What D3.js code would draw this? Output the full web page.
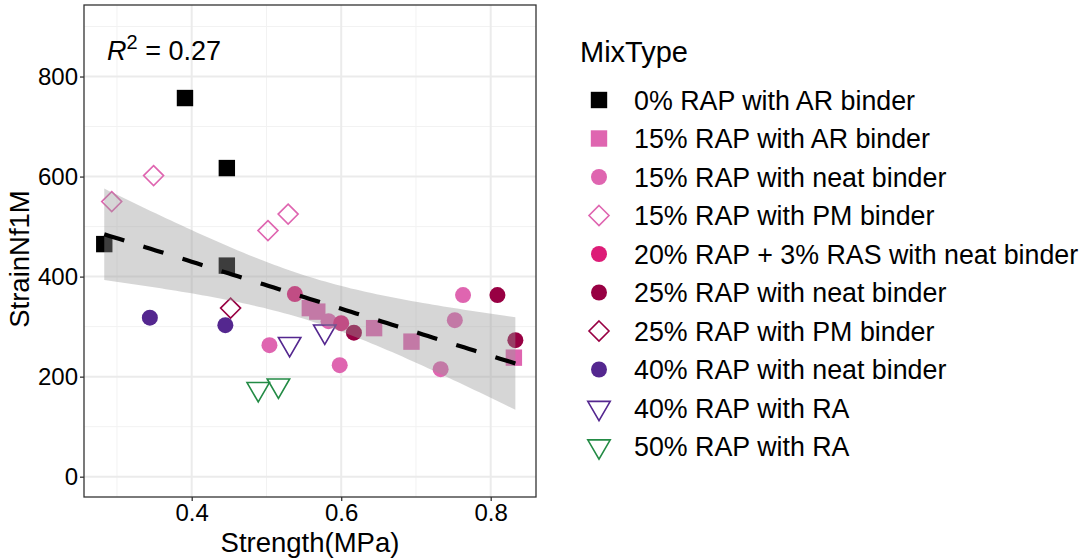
<!DOCTYPE html>
<html>
<head>
<meta charset="utf-8">
<script src="https://d3js.org/d3.v7.min.js"></script>
<style>
  body { margin: 0; background: #fff; }
  * { font-family: "Liberation Sans", Arial, sans-serif; }
</style>
</head>
<body>
<script>
// ---- data ----
var mixTypes = [
  "0% RAP with AR binder",
  "15% RAP with AR binder",
  "15% RAP with neat binder",
  "15% RAP with PM binder",
  "20% RAP + 3% RAS with neat binder",
  "25% RAP with neat binder",
  "25% RAP with PM binder",
  "40% RAP with neat binder",
  "40% RAP with RA",
  "50% RAP with RA"
];
var mixColors = ["#000000", "#df65b0", "#df65b0", "#df65b0", "#dd1c77",
                 "#980043", "#980043", "#54278f", "#54278f", "#238b45"];
var mixShapes = ["square", "square", "circle", "diamond", "circle",
                 "circle", "diamond", "circle", "triangle", "triangle"];

// strength (MPa) per point, grouped by mix type index
var pointType = [0, 0, 0, 0,
                 1, 1, 1, 1, 1,
                 2, 2, 2, 2, 2, 2,
                 3, 3, 3, 3,
                 4, 4,
                 5, 5, 5,
                 6,
                 7, 7,
                 8, 8,
                 9, 9];
var strength = [0.391, 0.447, 0.283, 0.447,
                0.558, 0.568, 0.644, 0.694, 0.831,
                0.504, 0.583, 0.598, 0.733, 0.752, 0.763,
                0.349, 0.293, 0.502, 0.529,
                0.538, 0.600,
                0.617, 0.809, 0.833,
                0.452,
                0.344, 0.445,
                0.531, 0.578,
                0.489, 0.516];
var strainNf1M = [757, 617, 465, 422,
                  337, 330, 297, 270, 238,
                  263, 311, 223, 215, 313, 363,
                  602, 550, 492, 525,
                  365, 307,
                  288, 363, 273,
                  337,
                  318, 303,
                  265, 290,
                  175, 182];

var xTicks = [0.4, 0.6, 0.8];
var yTicks = [0, 200, 400, 600, 800];
var xMinor = [0.3, 0.5, 0.7];
var yMinor = [100, 300, 500, 700, 900];
var r2Label = "0.27";

// ---- layout ----
var W = 1087, H = 559;
var panel = {left: 84, right: 536, top: 5, bottom: 497};

var svg = d3.select("body").append("svg")
    .attr("width", W)
    .attr("height", H);

var x = d3.scaleLinear().domain([0.2559, 0.8606]).range([panel.left, panel.right]);
var y = d3.scaleLinear().domain([-40.6, 943]).range([panel.bottom, panel.top]);

// grid
var grid = svg.append("g");
grid.selectAll(".xminor").data(xMinor).enter().append("line")
    .attr("x1", d => x(d)).attr("x2", d => x(d))
    .attr("y1", panel.top).attr("y2", panel.bottom)
    .attr("stroke", "#f2f2f2").attr("stroke-width", 1);
grid.selectAll(".yminor").data(yMinor).enter().append("line")
    .attr("y1", d => y(d)).attr("y2", d => y(d))
    .attr("x1", panel.left).attr("x2", panel.right)
    .attr("stroke", "#f2f2f2").attr("stroke-width", 1);
grid.selectAll(".xmajor").data(xTicks).enter().append("line")
    .attr("x1", d => x(d)).attr("x2", d => x(d))
    .attr("y1", panel.top).attr("y2", panel.bottom)
    .attr("stroke", "#ebebeb").attr("stroke-width", 2);
grid.selectAll(".ymajor").data(yTicks).enter().append("line")
    .attr("y1", d => y(d)).attr("y2", d => y(d))
    .attr("x1", panel.left).attr("x2", panel.right)
    .attr("stroke", "#ebebeb").attr("stroke-width", 2);

// symbol paths, s = half size
function shapePath(shape, s) {
  var p = d3.path();
  if (shape == "square") {
    p.rect(-s, -s, 2 * s, 2 * s);
  } else if (shape == "circle") {
    p.arc(0, 0, s, 0, 2 * Math.PI);
  } else if (shape == "diamond") {
    p.moveTo(0, -s); p.lineTo(s, 0); p.lineTo(0, s); p.lineTo(-s, 0); p.closePath();
  } else {
    // downward triangle
    p.moveTo(-s * 1.1, -s * 0.65); p.lineTo(s * 1.1, -s * 0.65); p.lineTo(0, s * 1.25); p.closePath();
  }
  return p.toString();
}
function shapeSize(shape) {
  return shape == "square" ? 8.2 : shape == "circle" ? 8 : shape == "diamond" ? 10 : 10.2;
}
function styleMark(sel, ti) {
  var shape = mixShapes[ti], col = mixColors[ti];
  var open = shape == "diamond" || shape == "triangle";
  sel.attr("d", shapePath(shape, shapeSize(shape)))
     .attr("fill", open ? "none" : col)
     .attr("stroke", open ? col : "none")
     .attr("stroke-width", open ? 1.6 : 0);
}

// points
var pts = strength.map((s, i) => ({x: s, y: strainNf1M[i], t: pointType[i]}));
svg.append("g").selectAll("path").data(pts).enter().append("path")
    .attr("transform", d => "translate(" + x(d.x) + "," + y(d.y) + ")")
    .each(function(d) { styleMark(d3.select(this), d.t); });

// linear fit with 95% band
var n = pts.length;
var mx = d3.mean(pts, d => d.x), my = d3.mean(pts, d => d.y);
var sxx = d3.sum(pts, d => (d.x - mx) * (d.x - mx));
var sxy = d3.sum(pts, d => (d.x - mx) * (d.y - my));
var slope = sxy / sxx, icpt = my - slope * mx;
var sse = d3.sum(pts, d => Math.pow(d.y - (icpt + slope * d.x), 2));
var sres = Math.sqrt(sse / (n - 2));
var tq = 2.045; // t(0.975, 29)
var xlo = d3.min(pts, d => d.x), xhi = d3.max(pts, d => d.x);
var fit = d3.range(81).map(i => {
  var xv = xlo + (xhi - xlo) * i / 80;
  var yv = icpt + slope * xv;
  var se = sres * Math.sqrt(1 / n + (xv - mx) * (xv - mx) / sxx);
  return {x: xv, y: yv, lo: yv - tq * se, hi: yv + tq * se};
});
svg.append("path").datum(fit)
    .attr("d", d3.area().x(d => x(d.x)).y0(d => y(d.lo)).y1(d => y(d.hi)))
    .attr("fill", "#999999").attr("fill-opacity", 0.4);
svg.append("path").datum(fit)
    .attr("d", d3.line().x(d => x(d.x)).y(d => y(d.y)))
    .attr("fill", "none").attr("stroke", "#000")
    .attr("stroke-width", 4.2).attr("stroke-dasharray", "21,20");

// panel border
svg.append("rect")
    .attr("x", panel.left).attr("y", panel.top)
    .attr("width", panel.right - panel.left).attr("height", panel.bottom - panel.top)
    .attr("fill", "none").attr("stroke", "#333").attr("stroke-width", 1.3);

// axes
var xAxis = svg.append("g")
    .attr("transform", "translate(0," + panel.bottom + ")")
    .call(d3.axisBottom(x).tickValues(xTicks).tickSize(4).tickPadding(3).tickFormat(d3.format(".1f")));
var yAxis = svg.append("g")
    .attr("transform", "translate(" + panel.left + ",0)")
    .call(d3.axisLeft(y).tickValues(yTicks).tickSize(4).tickPadding(2));
[xAxis, yAxis].forEach(a => {
  a.select(".domain").remove();
  a.selectAll(".tick line").attr("stroke", "#333").attr("stroke-width", 1.3);
  a.selectAll(".tick text").attr("fill", "#000")
      .style("font-size", "24px").style("font-family", "'Liberation Sans', Arial, sans-serif");
});

// axis titles
svg.append("text")
    .attr("x", (panel.left + panel.right) / 2).attr("y", 552)
    .attr("text-anchor", "middle")
    .style("font-size", "27.5px")
    .text("Strength(MPa)");
svg.append("text")
    .attr("transform", "translate(29," + 259 + ") rotate(-90)")
    .attr("text-anchor", "middle")
    .style("font-size", "27.5px")
    .text("StrainNf1M");

// R^2 annotation
var r2 = svg.append("text").attr("x", 107).attr("y", 60).style("font-size", "27px");
r2.append("tspan").style("font-style", "italic").text("R");
r2.append("tspan").attr("dy", -11).style("font-size", "20px").text("2");
r2.append("tspan").attr("dy", 11).text(" = " + r2Label);

// legend
svg.append("text")
    .attr("x", 580).attr("y", 62)
    .style("font-size", "29px")
    .text("MixType");
var rowY = d3.scaleLinear().domain([0, 9]).range([100, 446.5]);
var leg = svg.append("g").selectAll("g").data(mixTypes).enter().append("g")
    .attr("transform", (d, i) => "translate(0," + rowY(i) + ")");
leg.append("path")
    .attr("transform", "translate(599,0)")
    .each(function(d, i) { styleMark(d3.select(this), i); });
leg.append("text")
    .attr("x", 634).attr("dy", "0.36em")
    .style("font-size", "26.8px")
    .text(d => d);
</script>
</body>
</html>
